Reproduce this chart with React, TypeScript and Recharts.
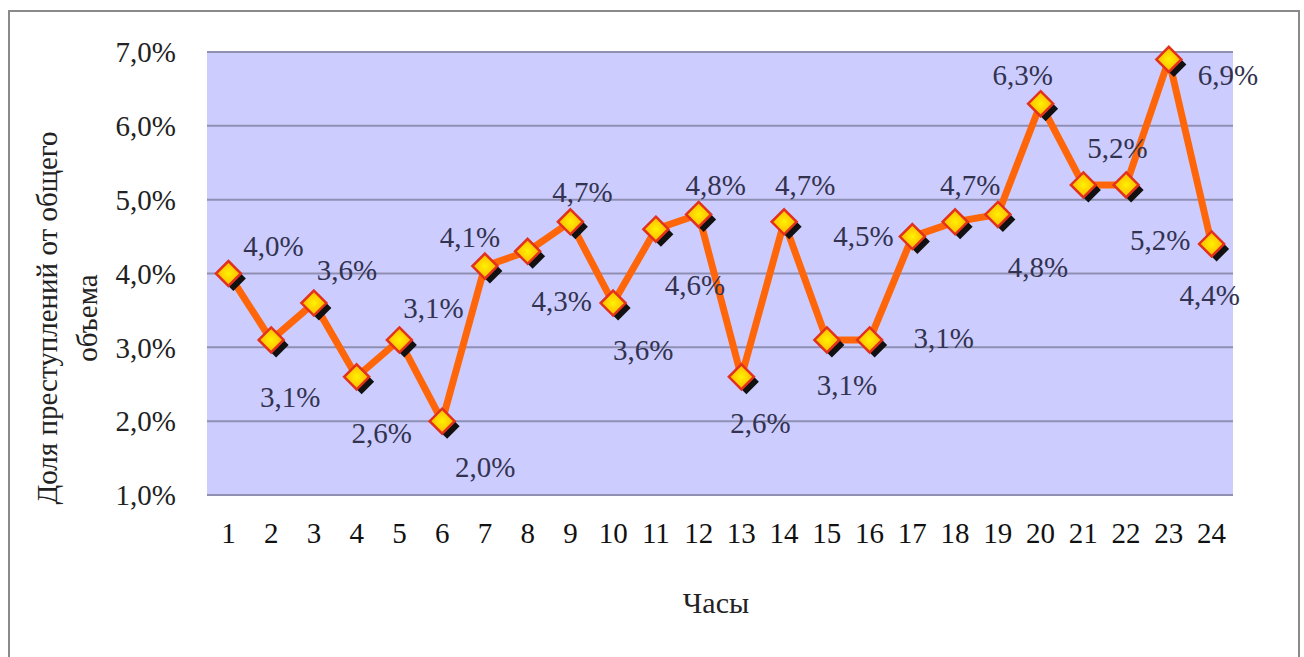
import React from 'react';
import { LineChart, Line, XAxis, YAxis, CartesianGrid, LabelList } from 'recharts';

// hours of the day
const hours = ['1', '2', '3', '4', '5', '6', '7', '8', '9', '10', '11', '12', '13', '14', '15', '16', '17', '18', '19', '20', '21', '22', '23', '24'];
// share of crimes, %
const shares = [4.0, 3.1, 3.6, 2.6, 3.1, 2.0, 4.1, 4.3, 4.7, 3.6, 4.6, 4.8, 2.6, 4.7, 3.1, 3.1, 4.5, 4.7, 4.8, 6.3, 5.2, 5.2, 6.9, 4.4];
const yTicks = [1, 2, 3, 4, 5, 6, 7];

// where each data label sits relative to its marker (dx, dy)
const labelOffsets: [number, number][] = [
  [45, -28], [19, 57], [33, -33], [25, 56], [34, -32], [43, 46],
  [-15, -29], [34, 50], [12, -30], [30, 47], [39, 56], [17, -29],
  [19, 46], [21, -37], [20, 45], [74, -2], [-49, -1], [15, -37],
  [40, 53], [-18, -29], [34, -37], [34, 55], [59, 16], [-2, 51],
];

const FONT = 'Liberation Serif';

const data = hours.map((h, i) => ({ hour: h, share: shares[i] }));

const fmt = (v: number) => v.toFixed(1).replace('.', ',') + '%';

const diamond = (cx: number, cy: number, r: number) =>
  `M${cx},${cy - r} L${cx + r},${cy} L${cx},${cy + r} L${cx - r},${cy} Z`;

const Marker = (props: any) => {
  const { cx, cy } = props;
  if (cx == null || cy == null) return null;
  return (
    <g>
      <path d={diamond(cx + 5, cy + 5, 12.5)} fill="#111" />
      <path d={diamond(cx, cy, 12.5)} fill="url(#markerFill)" stroke="#e2311c" strokeWidth={2.5} />
    </g>
  );
};

const DataLabel = (props: any) => {
  const { x, y, value, index } = props;
  const [dx, dy] = labelOffsets[index] || [0, -30];
  return (
    <text
      x={x + dx}
      y={y + dy + 10}
      textAnchor="middle"
      fontFamily={FONT}
      fontSize={29}
      fill="#33334f"
    >
      {fmt(value)}
    </text>
  );
};

export default function App() {
  return (
    <div style={{ position: 'absolute', left: 0, top: 0, width: 1304, height: 657, background: '#fff', overflow: 'hidden' }}>
      <svg width={0} height={0} style={{ position: 'absolute' }}>
        <defs>
          <radialGradient id="markerFill" cx="50%" cy="50%" r="60%">
            <stop offset="0%" stopColor="#fff200" />
            <stop offset="100%" stopColor="#ffa800" />
          </radialGradient>
        </defs>
      </svg>
      {/* outer frame */}
      <div style={{ position: 'absolute', left: 8, top: 10, width: 1288, height: 700, border: '2px solid #8a8a8a' }} />

      <div style={{ position: 'absolute', left: 0, top: 0 }}>
        <LineChart width={1304} height={657} data={data} margin={{ top: 52, right: 71, bottom: 102, left: 107 }}>
          <CartesianGrid vertical={false} fill="#ccccff" stroke="#8f8fb3" strokeWidth={2} />
          <XAxis
            dataKey="hour"
            height={60}
            padding={{ left: 21.4, right: 21.4 }}
            axisLine={false}
            tickLine={false}
            tickSize={0}
            tickMargin={27}
            interval={0}
            tick={{ fontSize: 29, fill: '#111', fontFamily: FONT }}
          />
          <YAxis
            width={100}
            domain={[1, 7]}
            ticks={yTicks}
            axisLine={false}
            tickLine={false}
            tickSize={0}
            tickMargin={31}
            tickFormatter={fmt}
            tick={{ fontSize: 29, fill: '#222', fontFamily: FONT }}
          />
          <Line
            type="linear"
            dataKey="share"
            stroke="#ff660a"
            strokeWidth={7}
            dot={<Marker />}
            activeDot={false}
            isAnimationActive={false}
          >
            <LabelList dataKey="share" content={<DataLabel />} />
          </Line>
        </LineChart>
      </div>

      {/* axis titles */}
      <svg width={1304} height={657} style={{ position: 'absolute', left: 0, top: 0, pointerEvents: 'none' }}>
        <text x={716} y={613} textAnchor="middle" fontFamily={FONT} fontSize={30} fill="#222">
          Часы
        </text>
        <g transform="translate(67, 318) rotate(-90)">
          <text x={0} y={-10} textAnchor="middle" fontFamily={FONT} fontSize={29} fill="#222">
            Доля преступлений от общего
          </text>
          <text x={0} y={30} textAnchor="middle" fontFamily={FONT} fontSize={29} fill="#222">
            объема
          </text>
        </g>
      </svg>
    </div>
  );
}
